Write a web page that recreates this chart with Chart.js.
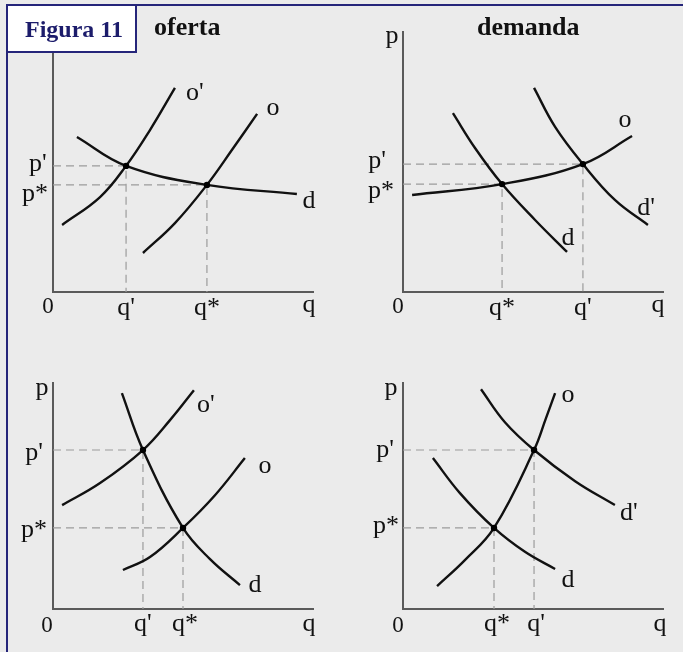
<!DOCTYPE html>
<html>
<head>
<meta charset="utf-8">
<script src="https://cdn.jsdelivr.net/npm/chart.js@4/dist/chart.umd.min.js"></script>
<style>
  html, body { margin: 0; padding: 0; }
  body { width: 683px; height: 652px; background: #ebebeb; position: relative; overflow: hidden; font-family: "Liberation Serif", serif; }
  canvas { position: absolute; }
  .frame { position: absolute; left: 6px; top: 4px; width: 700px; height: 700px; border-left: 2px solid #25257a; border-top: 2px solid #25257a; z-index: 2; }
  .fig { position: absolute; left: 6px; top: 4px; width: 131px; height: 49px; box-sizing: border-box; background: #fff; border: 2px solid #25257a; z-index: 3; }
  .txt { position: absolute; line-height: 1; white-space: nowrap; font-weight: bold; z-index: 4; }
</style>
</head>
<body>
<div class="frame"></div>
<div class="fig"></div>
<div class="txt" style="left:25px; top:17px; font-size:24px; color:#1c1c6b;">Figura 11</div>
<div class="txt" style="left:154px; top:14px; font-size:26px; color:#111;">oferta</div>
<div class="txt" style="left:477px; top:14px; font-size:26px; color:#111;">demanda</div>

<canvas id="c1" width="341" height="330" style="left:0;top:0"></canvas>
<canvas id="c2" width="342" height="330" style="left:341px;top:0"></canvas>
<canvas id="c3" width="341" height="322" style="left:0;top:330px"></canvas>
<canvas id="c4" width="342" height="322" style="left:341px;top:330px"></canvas>

<script>
// panel 1: supply shift (o -> o'), flat demand
const p1Oprime = [[0.35, 2.58], [1.81, 3.65], [2.81, 4.85], [3.73, 6.23], [4.69, 7.85]];
const p1O = [[3.46, 1.5], [4.69, 2.65], [5.92, 4.12], [6.88, 5.46], [7.85, 6.85]];
const p1D = [[0.92, 5.96], [2.81, 4.85], [5.92, 4.12], [9.38, 3.77]];
const p1Q = { qStar: 5.92, pStar: 4.12, qPrime: 2.81, pPrime: 4.85 };

// panel 2: demand shift (d -> d'), flat supply
const p2O = [[0.35, 3.73], [3.81, 4.15], [6.92, 4.92], [8.81, 6.0]];
const p2D = [[1.92, 6.88], [2.77, 5.54], [3.81, 4.15], [5.08, 2.77], [6.31, 1.54]];
const p2Dprime = [[5.04, 7.85], [5.85, 6.35], [6.92, 4.92], [8.15, 3.54], [9.42, 2.58]];
const p2Q = { qStar: 3.81, pStar: 4.15, qPrime: 6.92, pPrime: 4.92 };

// panel 3: supply shift, steep demand
const p3Oprime = [[0.35, 4.0], [1.81, 4.85], [3.46, 6.12], [4.5, 7.27], [5.42, 8.42]];
const p3O = [[2.69, 1.5], [3.73, 2.0], [5.0, 3.12], [6.23, 4.38], [7.38, 5.81]];
const p3D = [[2.65, 8.31], [3.46, 6.12], [5.0, 3.12], [6.04, 1.92], [7.19, 0.92]];
const p3Q = { qStar: 5.0, pStar: 3.12, qPrime: 3.46, pPrime: 6.12 };

// panel 4: demand shift, steep supply
const p4O = [[1.31, 0.88], [2.38, 1.88], [3.5, 3.12], [5.04, 6.12], [5.5, 7.35], [5.85, 8.31]];
const p4D = [[1.15, 5.81], [2.19, 4.46], [3.5, 3.12], [4.69, 2.2], [5.85, 1.54]];
const p4Dprime = [[3.0, 8.46], [3.92, 7.19], [5.04, 6.12], [6.62, 4.92], [8.15, 4.0]];
const p4Q = { qStar: 3.5, pStar: 3.12, qPrime: 5.04, pPrime: 6.12 };

// text labels: [text, x, y] in axis units (y = baseline)
const p1Labels = [["0", -0.19, -0.81], ["q'", 2.81, -0.88], ["q*", 5.92, -0.88], ["q", 9.85, -0.77],
  ["p'", -0.58, 4.65], ["p*", -0.69, 3.5], ["o'", 5.46, 7.38], ["o", 8.46, 6.81], ["d", 9.85, 3.23]];
const p2Labels = [["0", -0.19, -0.81], ["q*", 3.81, -0.88], ["q'", 6.92, -0.88], ["q", 9.81, -0.77],
  ["p", -0.42, 9.58], ["p'", -1.0, 4.77], ["p*", -0.85, 3.62], ["o", 8.54, 6.35], ["d'", 9.35, 2.96], ["d", 6.35, 1.81]];
const p3Labels = [["0", -0.23, -0.88], ["q'", 3.46, -0.85], ["q*", 5.08, -0.85], ["q", 9.85, -0.85],
  ["p", -0.42, 8.23], ["p'", -0.73, 5.73], ["p*", -0.73, 2.77], ["o'", 5.88, 7.58], ["o", 8.15, 5.23], ["d", 7.77, 0.65]];
const p4Labels = [["0", -0.19, -0.88], ["q*", 3.62, -0.85], ["q'", 5.12, -0.85], ["q", 9.88, -0.85],
  ["p", -0.46, 8.23], ["p'", -0.69, 5.85], ["p*", -0.65, 2.92], ["o", 6.35, 7.96], ["d'", 8.69, 3.42], ["d", 6.35, 0.85]];

const toXY = pts => pts.map(([x, y]) => ({ x, y }));

function curve(pts) {
  return {
    data: toXY(pts), borderColor: '#111', borderWidth: 2.4,
    pointRadius: 0, tension: 0.4, order: 1
  };
}

function guide(q, p) {
  return {
    data: [{ x: 0, y: p }, { x: q, y: p }, { x: q, y: 0 }],
    borderColor: '#9c9c9c', borderWidth: 1.2, borderDash: [8, 5], pointRadius: 0, tension: 0, order: 2
  };
}

const panelText = {
  id: 'panelText',
  afterDraw(chart, args, opts) {
    const { ctx, scales: { x, y } } = chart;
    ctx.save();
    ctx.fillStyle = '#111';
    ctx.textAlign = 'center';
    ctx.textBaseline = 'alphabetic';
    opts.items.forEach(([t, vx, vy]) => {
      ctx.font = (t === '0' ? '23px' : '26px') + ' "Liberation Serif", serif';
      ctx.fillText(t, x.getPixelForValue(vx), y.getPixelForValue(vy));
    });
    ctx.restore();
  }
};

function makePanel(id, curves, eq, labels, yMax, padding) {
  new Chart(document.getElementById(id), {
    type: 'line',
    data: {
      datasets: [
        {
          data: [{ x: eq.qStar, y: eq.pStar }, { x: eq.qPrime, y: eq.pPrime }],
          pointRadius: 3.2, pointBackgroundColor: '#000', pointBorderWidth: 0, showLine: false, order: 0
        },
        ...curves.map(curve),
        guide(eq.qStar, eq.pStar),
        guide(eq.qPrime, eq.pPrime)
      ]
    },
    options: {
      responsive: false,
      animation: false,
      devicePixelRatio: 1,
      layout: { padding },
      plugins: { legend: { display: false }, tooltip: { enabled: false }, panelText: { items: labels } },
      scales: {
        x: {
          type: 'linear', min: 0, max: 10,
          grid: { display: false, drawTicks: false },
          border: { display: true, color: '#5a5a5a', width: 2 },
          ticks: { display: false }
        },
        y: {
          type: 'linear', min: 0, max: yMax,
          grid: { display: false, drawTicks: false },
          border: { display: true, color: '#5a5a5a', width: 2 },
          ticks: { display: false }
        }
      }
    },
    plugins: [panelText]
  });
}

makePanel('c1', [p1Oprime, p1O, p1D], p1Q, p1Labels, 10, { left: 53, top: 32, right: 28, bottom: 38 });
makePanel('c2', [p2O, p2D, p2Dprime], p2Q, p2Labels, 10, { left: 62, top: 32, right: 20, bottom: 38 });
makePanel('c3', [p3Oprime, p3O, p3D], p3Q, p3Labels, 8.7, { left: 53, top: 53, right: 28, bottom: 43 });
makePanel('c4', [p4O, p4D, p4Dprime], p4Q, p4Labels, 8.7, { left: 62, top: 53, right: 20, bottom: 43 });
</script>
</body>
</html>
